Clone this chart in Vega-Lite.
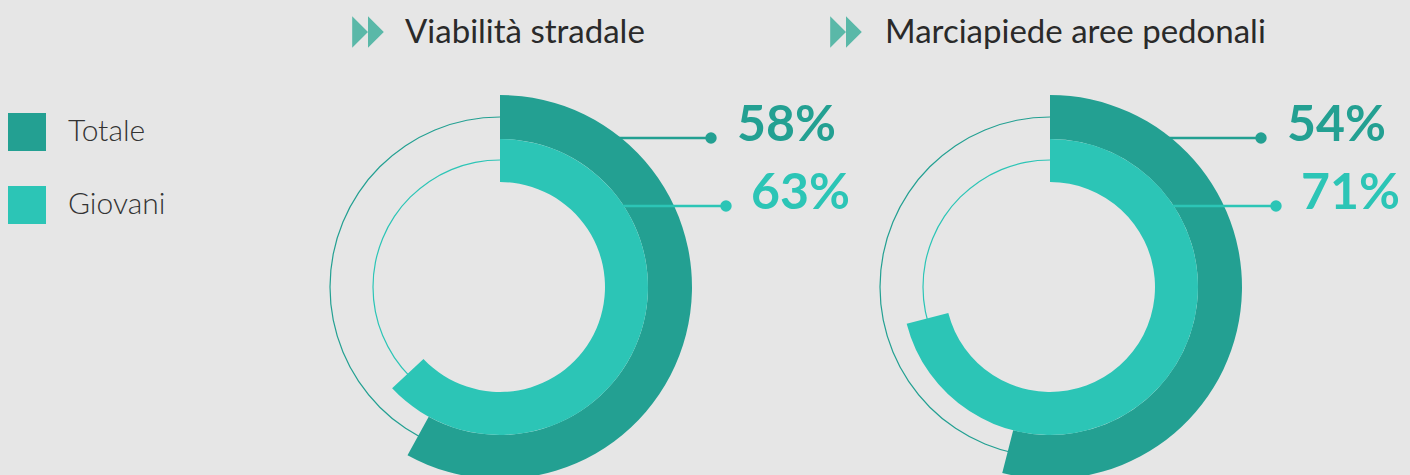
{
  "$schema": "https://vega.github.io/schema/vega-lite/v6.json",
  "width": 1410,
  "height": 475,
  "autosize": {"type": "fit", "contains": "padding"},
  "padding": 0,
  "background": "#e6e6e6",
  "config": {"view": {"stroke": null}},
  "datasets": {
    "valori": [
      {"topic": "Viabilità stradale", "serie": "Totale", "pct": 0.58},
      {"topic": "Viabilità stradale", "serie": "Giovani", "pct": 0.63},
      {"topic": "Marciapiede aree pedonali", "serie": "Totale", "pct": 0.54},
      {"topic": "Marciapiede aree pedonali", "serie": "Giovani", "pct": 0.71}
    ],
    "temi": [
      {"topic": "Viabilità stradale"},
      {"topic": "Marciapiede aree pedonali"}
    ]
  },
  "resolve": {"scale": {"x": "independent", "y": "independent"}},
  "layer": [
    {
      "data": {"name": "valori"},
      "encoding": {
        "x": {"field": "topic", "type": "nominal", "axis": null,
          "scale": {"type": "point", "domain": ["Viabilità stradale", "Marciapiede aree pedonali"], "range": [500, 1050], "padding": 0}},
        "color": {"field": "serie", "type": "nominal",
          "scale": {"domain": ["Totale", "Giovani"], "range": ["#23a092", "#2cc5b6"]},
          "legend": {"title": null, "orient": "none", "legendX": 8, "legendY": 113, "symbolType": "square", "symbolSize": 1444, "symbolStrokeWidth": 0, "symbolOpacity": 1, "labelFont": "Lato", "labelFontSize": 30, "labelFontWeight": 300, "labelColor": "#333333", "labelOffset": 22, "rowPadding": 35, "padding": 0}}
      },
      "layer": [
        {
          "transform": [{"filter": "datum.serie === 'Totale'"}],
          "mark": {"type": "arc", "radius": 170.6, "radius2": 169.4, "theta": 0, "theta2": 6.2832, "yOffset": 53.5}
        },
        {
          "transform": [{"filter": "datum.serie === 'Giovani'"}],
          "mark": {"type": "arc", "radius": 127.6, "radius2": 126.4, "theta": 0, "theta2": 6.2832, "yOffset": 53.5}
        },
        {
          "transform": [{"filter": "datum.serie === 'Totale'"}],
          "mark": {"type": "rule", "strokeWidth": 2.5, "xOffset": 100, "x2Offset": 211},
          "encoding": {
            "x2": {"field": "topic"},
            "y": {"field": "serie", "type": "nominal", "axis": null,
              "scale": {"type": "point", "domain": ["Totale", "Giovani"], "range": [138, 206], "padding": 0}}
          }
        },
        {
          "transform": [{"filter": "datum.serie === 'Totale'"}],
          "mark": {"type": "arc", "radius": 192, "radius2": 148, "yOffset": 53.5},
          "encoding": {
            "theta": {"field": "pct", "type": "quantitative", "stack": null, "scale": {"domain": [0, 1], "range": [0, 6.2832]}},
            "theta2": {"datum": 0}
          }
        },
        {
          "transform": [{"filter": "datum.serie === 'Giovani'"}],
          "mark": {"type": "rule", "strokeWidth": 2.5, "xOffset": 100, "x2Offset": 226},
          "encoding": {
            "x2": {"field": "topic"},
            "y": {"field": "serie", "type": "nominal", "axis": null,
              "scale": {"type": "point", "domain": ["Totale", "Giovani"], "range": [138, 206], "padding": 0}}
          }
        },
        {
          "transform": [{"filter": "datum.serie === 'Giovani'"}],
          "mark": {"type": "arc", "radius": 148, "radius2": 105, "yOffset": 53.5},
          "encoding": {
            "theta": {"field": "pct", "type": "quantitative", "stack": null, "scale": {"domain": [0, 1], "range": [0, 6.2832]}},
            "theta2": {"datum": 0}
          }
        },
        {
          "transform": [{"filter": "datum.serie === 'Totale'"}],
          "mark": {"type": "point", "filled": true, "opacity": 1, "size": 130, "xOffset": 211},
          "encoding": {
            "y": {"field": "serie", "type": "nominal", "axis": null,
              "scale": {"type": "point", "domain": ["Totale", "Giovani"], "range": [138, 206], "padding": 0}}
          }
        },
        {
          "transform": [{"filter": "datum.serie === 'Giovani'"}],
          "mark": {"type": "point", "filled": true, "opacity": 1, "size": 130, "xOffset": 226},
          "encoding": {
            "y": {"field": "serie", "type": "nominal", "axis": null,
              "scale": {"type": "point", "domain": ["Totale", "Giovani"], "range": [138, 206], "padding": 0}}
          }
        },
        {
          "transform": [{"filter": "datum.serie === 'Totale'"}],
          "mark": {"type": "text", "align": "left", "baseline": "alphabetic", "font": "Lato", "fontSize": 50, "fontWeight": "bold", "xOffset": 237, "dy": 3},
          "encoding": {
            "y": {"field": "serie", "type": "nominal", "axis": null,
              "scale": {"type": "point", "domain": ["Totale", "Giovani"], "range": [138, 206], "padding": 0}},
            "text": {"field": "pct", "type": "quantitative", "format": ".0%"}
          }
        },
        {
          "transform": [{"filter": "datum.serie === 'Giovani'"}],
          "mark": {"type": "text", "align": "left", "baseline": "alphabetic", "font": "Lato", "fontSize": 50, "fontWeight": "bold", "xOffset": 251, "dy": 3},
          "encoding": {
            "y": {"field": "serie", "type": "nominal", "axis": null,
              "scale": {"type": "point", "domain": ["Totale", "Giovani"], "range": [138, 206], "padding": 0}},
            "text": {"field": "pct", "type": "quantitative", "format": ".0%"}
          }
        }
      ]
    },
    {
      "data": {"name": "temi"},
      "mark": {"type": "point", "shape": "M-1,-1L0,0L-1,1ZM0,-1L1,0L0,1Z", "filled": true, "opacity": 1, "size": 1000, "color": "#5ab8a8", "yOffset": -201.5},
      "encoding": {
        "x": {"field": "topic", "type": "nominal", "axis": null,
          "scale": {"type": "point", "domain": ["Viabilità stradale", "Marciapiede aree pedonali"], "range": [368, 846], "padding": 0}}
      }
    },
    {
      "data": {"name": "temi"},
      "mark": {"type": "text", "align": "left", "baseline": "alphabetic", "font": "Lato", "fontSize": 33, "color": "#2a2a2a", "yOffset": -190.5},
      "encoding": {
        "x": {"field": "topic", "type": "nominal", "axis": null,
          "scale": {"type": "point", "domain": ["Viabilità stradale", "Marciapiede aree pedonali"], "range": [405, 885], "padding": 0}},
        "text": {"field": "topic", "type": "nominal"}
      }
    }
  ]
}
